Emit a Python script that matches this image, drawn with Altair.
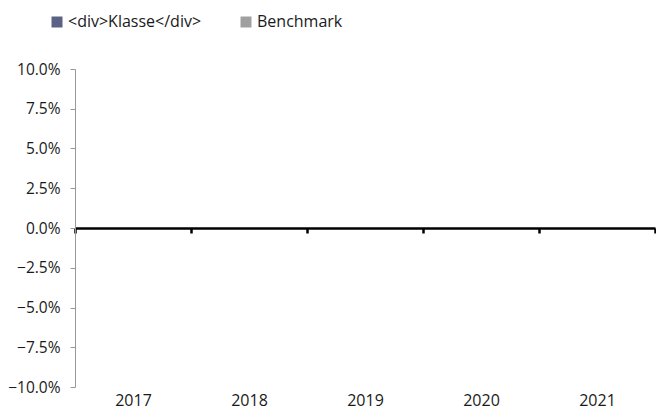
import altair as alt
import pandas as pd

years = ["2017", "2018", "2019", "2020", "2021"]
series = ["<div>Klasse</div>", "Benchmark"]
klasse = [0.0, 0.0, 0.0, 0.0, 0.0]
benchmark = [0.0, 0.0, 0.0, 0.0, 0.0]
colors = ["#5A6384", "#A0A0A0"]

rows = []
for i, y in enumerate(years):
    rows.append({"year": y, "series": series[0], "value": klasse[i]})
    rows.append({"year": y, "series": series[1], "value": benchmark[i]})
df = pd.DataFrame(rows)

FONT = "Open Sans"
FS = 16

chart = alt.Chart(df).mark_bar().encode(
    x=alt.X("year:N", sort=years, title=None,
            scale=alt.Scale(paddingInner=0, paddingOuter=0),
            axis=alt.Axis(labelAngle=0, offset=-159, tickBand="extent",
                          domainColor="black", domainWidth=2.5,
                          tickColor="black", tickWidth=2.5, tickSize=5,
                          labelPadding=159, labelFontSize=FS, labelFont=FONT,
                          labelColor="#1a1a1a")),
    xOffset=alt.XOffset("series:N", sort=series,
                        scale=alt.Scale(paddingOuter=0.3)),
    y=alt.Y("value:Q", title=None,
            scale=alt.Scale(domain=[-0.1, 0.1], nice=False),
            axis=alt.Axis(format=".1%", values=[-0.1, -0.075, -0.05, -0.025, 0, 0.025, 0.05, 0.075, 0.1],
                          grid=False, domainColor="#999999", tickColor="#999999",
                          tickSize=5, labelPadding=10, labelFontSize=15.5,
                          labelFont=FONT, labelColor="#1a1a1a")),
    color=alt.Color("series:N", sort=series,
                    scale=alt.Scale(domain=series, range=colors),
                    legend=alt.Legend(title=None, orient="none", direction="horizontal",
                                      legendX=-26, legendY=-55, symbolType="square",
                                      symbolSize=121, symbolStrokeWidth=0,
                                      labelFontSize=FS, labelFont=FONT,
                                      labelColor="#1a1a1a", columnPadding=36,
                                      labelOffset=3)),
).properties(
    width=580, height=318,
    padding={"left": 67, "top": 61, "right": 1, "bottom": 24},
    autosize=alt.AutoSizeParams(type="none"),
).configure_view(stroke=None)

chart.save("out.html", embed_options={"renderer": "svg", "actions": False})
